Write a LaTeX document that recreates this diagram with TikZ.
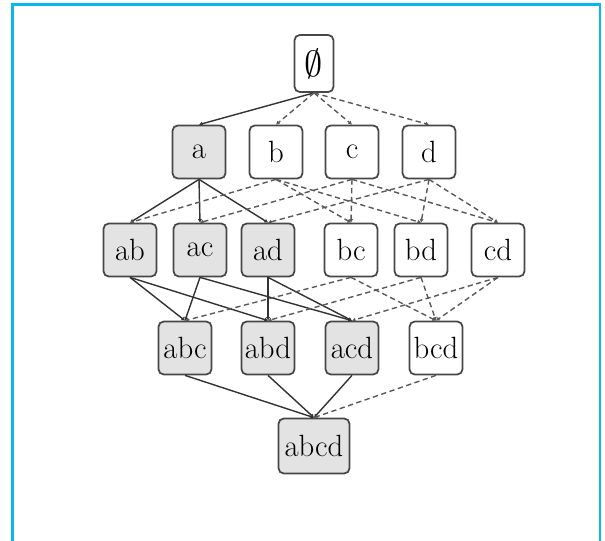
\documentclass[tikz,border=0pt]{standalone}
\usepackage{tikz}
\usetikzlibrary{arrows.meta}

\definecolor{framecol}{RGB}{10,182,240}

\begin{document}
\begin{tikzpicture}

\tikzset{
  set node/.style={
    draw=black!72,
    line width=1pt,
    rounded corners=3pt,
    minimum width=1.06cm,
    minimum height=1.06cm,
    inner sep=0pt,
    font=\fontsize{17.5}{20}\selectfont,
  },
  frequent/.style={
    set node,
    fill=black!11,
  },
  solid edge/.style={
    draw=black!80,
    line width=0.8pt,
    -{Latex[length=2pt,width=2.5pt]},
  },
  pruned edge/.style={
    draw=black!65,
    line width=0.8pt,
    densely dashed,
    -{Latex[length=2pt,width=2.5pt]},
  }
}

\useasboundingbox (0,0) rectangle (12.1,-10.8);

% Frame
\draw[framecol, line width=1.4pt] (0.25,-10.9) -- (0.25,-0.09) -- (12.0,-0.09) -- (12.0,-10.9);

% Level 0
\node[set node, minimum width=0.78cm, minimum height=1.14cm, font=\fontsize{21}{24}\selectfont] (empty) at (6.28,-1.27) {$\emptyset$};

% Level 1
\node[frequent] (a) at (3.98,-3.04) {a};
\node[set node] (b) at (5.52,-3.04) {b};
\node[set node] (c) at (7.04,-3.04) {c};
\node[set node] (d) at (8.58,-3.04) {d};

% Level 2
\node[frequent] (ab) at (2.60,-5.00) {ab};
\node[frequent] (ac) at (4.00,-5.00) {ac};
\node[frequent] (ad) at (5.36,-5.00) {ad};
\node[set node] (bc) at (7.02,-5.00) {bc};
\node[set node] (bd) at (8.42,-5.00) {bd};
\node[set node] (cd) at (9.96,-5.00) {cd};

% Level 3
\node[frequent] (abc) at (3.70,-6.96) {abc};
\node[frequent] (abd) at (5.36,-6.96) {abd};
\node[frequent] (acd) at (7.04,-6.96) {acd};
\node[set node] (bcd) at (8.72,-6.96) {bcd};

% Level 4
\node[frequent, minimum width=1.42cm, minimum height=1.1cm] (abcd) at (6.28,-8.92) {abcd};

% Edges, level 0 to 1
\draw[solid edge] (empty.south) -- (a.north);
\draw[pruned edge] (empty.south) -- (b.north);
\draw[pruned edge] (empty.south) -- (c.north);
\draw[pruned edge] (empty.south) -- (d.north);

% Edges, level 1 to 2
\draw[solid edge] (a.south) -- (ab.north);
\draw[solid edge] (a.south) -- (ac.north);
\draw[solid edge] (a.south) -- (ad.north);
\draw[pruned edge] (b.south) -- (ab.north);
\draw[pruned edge] (b.south) -- (bc.north);
\draw[pruned edge] (b.south) -- (bd.north);
\draw[pruned edge] (c.south) -- (ac.north);
\draw[pruned edge] (c.south) -- (bc.north);
\draw[pruned edge] (c.south) -- (cd.north);
\draw[pruned edge] (d.south) -- (ad.north);
\draw[pruned edge] (d.south) -- (bd.north);
\draw[pruned edge] (d.south) -- (cd.north);

% Edges, level 2 to 3
\draw[solid edge] (ab.south) -- (abc.north);
\draw[solid edge] (ab.south) -- (abd.north);
\draw[solid edge] (ac.south) -- (abc.north);
\draw[solid edge] (ac.south) -- (acd.north);
\draw[solid edge] (ad.south) -- (abd.north);
\draw[solid edge] (ad.south) -- (acd.north);
\draw[pruned edge] (bc.south) -- (abc.north);
\draw[pruned edge] (bc.south) -- (bcd.north);
\draw[pruned edge] (bd.south) -- (abd.north);
\draw[pruned edge] (bd.south) -- (bcd.north);
\draw[pruned edge] (cd.south) -- (acd.north);
\draw[pruned edge] (cd.south) -- (bcd.north);

% Edges, level 3 to 4
\draw[solid edge] (abc.south) -- (abcd.north);
\draw[solid edge] (abd.south) -- (abcd.north);
\draw[solid edge] (acd.south) -- (abcd.north);
\draw[pruned edge] (bcd.south) -- (abcd.north);

\end{tikzpicture}
\end{document}
